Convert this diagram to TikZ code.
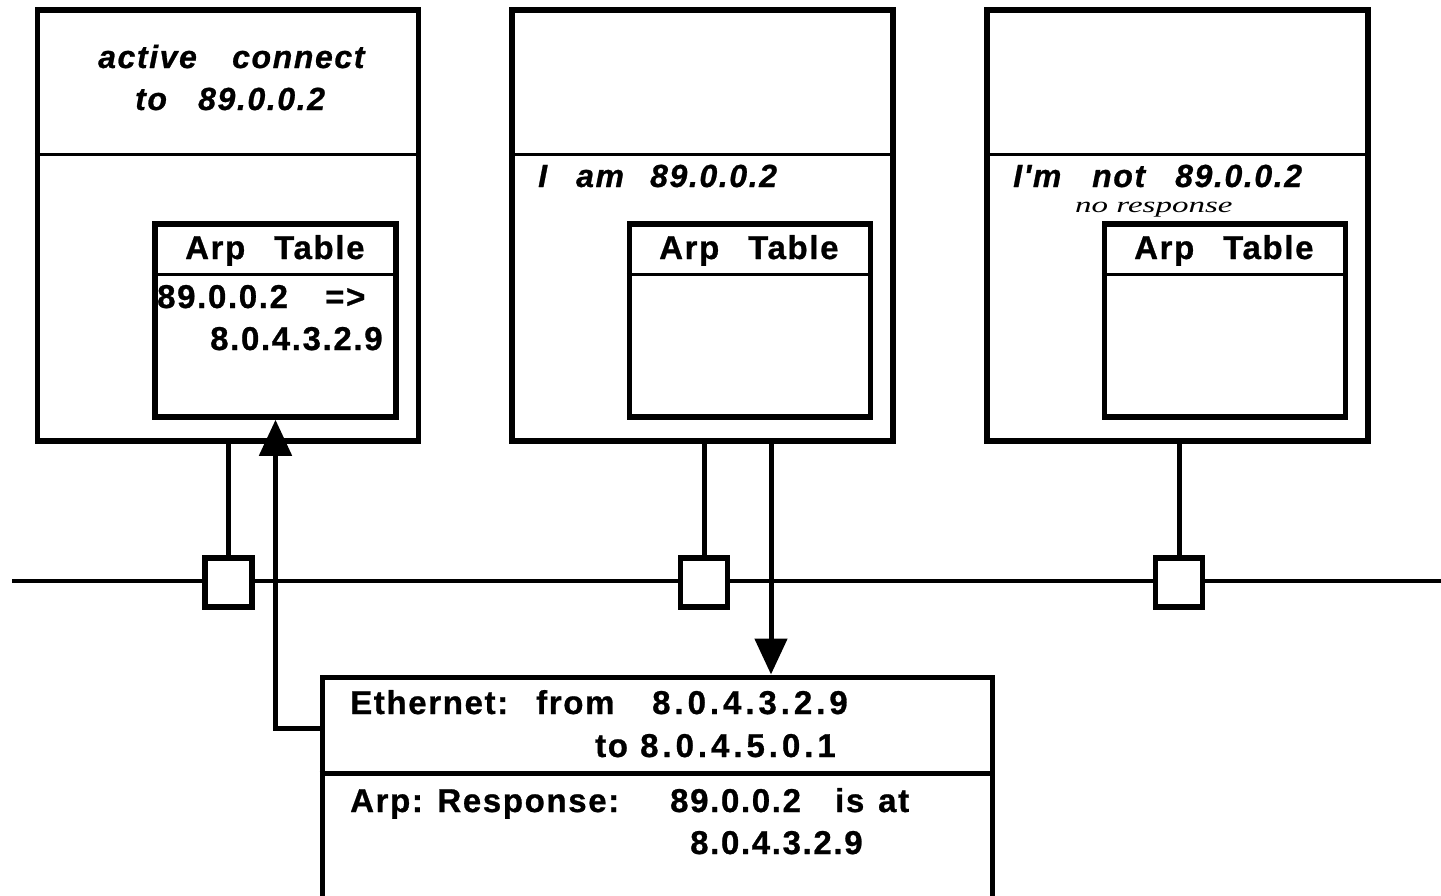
\documentclass[tikz,border=0pt]{standalone}
\usepackage{fontspec}
\setmainfont{Liberation Sans}
\newfontfamily\labelfont{Liberation Sans}[LetterSpace=5,
  BoldFeatures={FakeBold=0.8}, BoldItalicFeatures={FakeBold=0.8}]
\newfontfamily\widefont{Liberation Sans}[LetterSpace=12,
  BoldFeatures={FakeBold=0.8}]
\newfontfamily\handfont{Liberation Serif}
\usetikzlibrary{arrows.meta}
% a word in a slot of fixed width, so the next word starts at a fixed place
\newcommand\slot[2]{\makebox[#1pt][l]{#2}}
\begin{document}
\begin{tikzpicture}[x=1pt,y=-1pt,
  host/.style={draw, line width=5.5pt, minimum width=381pt, minimum height=431pt, inner sep=0},
  arptab/.style={draw, line width=5.5pt, minimum width=241pt, minimum height=193pt, inner sep=0},
  tap/.style={draw, fill=white, line width=5.5pt, minimum width=47pt, minimum height=49pt, inner sep=0},
  msgbox/.style={draw, line width=5pt, minimum width=670pt, minimum height=222pt, inner sep=0},
  divider/.style={line width=3pt},
  wire/.style={line width=5pt},
  bus/.style={line width=4.5pt},
  arrowed/.style={line width=5pt, -{Triangle[length=36pt,width=32pt]}},
  txt/.style={anchor=base west, inner sep=0, font=\labelfont\bfseries\fontsize{33}{38}\selectfont},
  itxt/.style={anchor=base west, inner sep=0, font=\labelfont\bfseries\itshape\fontsize{32}{37}\selectfont},
  hand/.style={anchor=base west, inner sep=0, font=\handfont\itshape\fontsize{22}{26}\selectfont}]
\useasboundingbox (0,0) rectangle (1441,895);

% the network cable
\coordinate (busL) at (12,581);
\coordinate (busR) at (1441,581);
\draw[bus] (busL) -- (busR);

% three hosts
\node[host] (box1) at (228,225.5) {};
\node[host] (box2) at (702.5,225.5) {};
\node[host] (box3) at (1177.5,225.5) {};
\foreach \b in {box1,box2,box3}
  \draw[divider] (\b.west |- 0,154) -- (\b.east |- 0,154);

% ARP tables
\node[arptab] (arp1) at (275.5,320.5) {};
\node[arptab] (arp2) at (750,320.5) {};
\node[arptab] (arp3) at (1225,320.5) {};
\foreach \a in {arp1,arp2,arp3}
  \draw[divider] (\a.west |- 0,274) -- (\a.east |- 0,274);

% transceivers on the cable
\node[tap] (sq1) at (228.5,582.5) {};
\node[tap] (sq2) at (704,582.5) {};
\node[tap] (sq3) at (1179,582.5) {};
\draw[wire] (sq1.north) -- (sq1.north |- box1.south);
\draw[wire] (sq2.north) -- (sq2.north |- box2.south);
\draw[wire] (sq3.north) -- (sq3.north |- box3.south);

% the ARP response frame
\node[msgbox] (msg) at (657,788) {};
\draw[wire] (msg.west |- 0,773) -- (msg.east |- 0,773);

% frame leaving host 2 and arriving at host 1's table
\draw[arrowed] (box2.south -| 771,0) -- (msg.north -| 771,0);
\draw[arrowed] (msg.west |- 0,728) -| (arp1.south);

% host texts
\node[itxt] (h1a) at (98,68) {\slot{134}{active}connect};
\node[itxt] (h1b) at (135,110) {\slot{63}{to}89.0.0.2};
\node[itxt] (h2) at (538,187) {\slot{38}{I}\slot{74}{am}89.0.0.2};
\node[itxt] (h3) at (1013,187) {\slot{79}{I'm}\slot{83}{not}89.0.0.2};
\node[hand] (h3n) at (1075,212) {\scalebox{1.5}[1]{no response}};

% table headings and entries
\node[txt] (t1) at (185,259) {\slot{89}{Arp}Table};
\node[txt] (t2) at (659,259) {\slot{89}{Arp}Table};
\node[txt] (t3) at (1134,259) {\slot{89}{Arp}Table};
\node[txt] (e1) at (157,308) {\slot{168}{89.0.0.2}=>};
\node[txt] (e2) at (210,350) {8.0.4.3.2.9};

% frame contents
\node[txt] (m1) at (350,714) {\slot{186}{Ethernet:}\slot{116}{from}{\widefont 8.0.4.3.2.9}};
\node[txt] (m2) at (595,757) {\slot{45}{to}{\widefont 8.0.4.5.0.1}};
\node[txt] (m3) at (350,812) {\slot{320}{Arp: Response:}\slot{165}{89.0.0.2}\slot{43}{is}at};
\node[txt] (m4) at (690,854) {8.0.4.3.2.9};
\end{tikzpicture}
\end{document}
